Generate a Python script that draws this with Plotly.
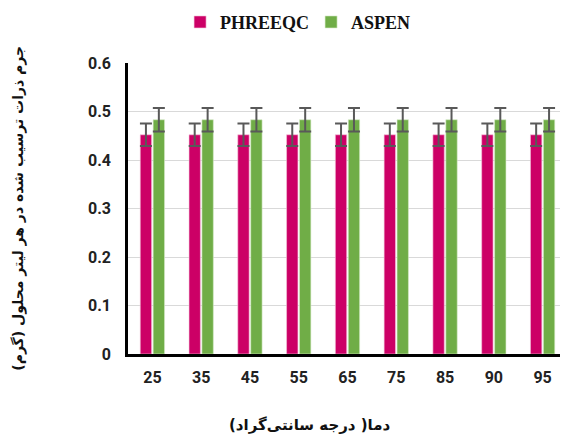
import plotly.graph_objects as go

temperatures = ["25", "35", "45", "55", "65", "75", "85", "90", "95"]
phreeqc = [0.452, 0.452, 0.452, 0.452, 0.452, 0.452, 0.452, 0.452, 0.452]
phreeqc_err = [0.023, 0.023, 0.023, 0.023, 0.023, 0.023, 0.023, 0.023, 0.023]
aspen = [0.483, 0.483, 0.483, 0.483, 0.483, 0.483, 0.483, 0.483, 0.483]
aspen_err = [0.024, 0.024, 0.024, 0.024, 0.024, 0.024, 0.024, 0.024, 0.024]
y_ticks = [0, 0.1, 0.2, 0.3, 0.4, 0.5, 0.6]
y_tick_labels = ["0", "0.1", "0.2", "0.3", "0.4", "0.5", "0.6"]

tick_font = dict(family="Roboto", size=16, color="#222222", weight="bold")

fig = go.Figure()
fig.add_trace(go.Bar(
    x=temperatures, y=phreeqc, name="PHREEQC",
    marker=dict(color="#CC0066", line=dict(color="#f3c6dc", width=0.6)),
    error_y=dict(type="data", array=phreeqc_err, color="#595959", thickness=2, width=6),
))
fig.add_trace(go.Bar(
    x=temperatures, y=aspen, name="ASPEN",
    marker=dict(color="#70AD47", line=dict(color="#d6ebc9", width=0.6)),
    error_y=dict(type="data", array=aspen_err, color="#595959", thickness=2, width=6),
))

# the page body has an 8px default margin, so the figure is drawn 8px smaller
fig.update_layout(
    width=560, height=426,
    margin=dict(l=120, r=1, t=55, b=80, autoexpand=False),
    paper_bgcolor="white", plot_bgcolor="white",
    barmode="group", bargap=0.47, bargroupgap=0.12,
    showlegend=True,
    legend=dict(orientation="h", x=0.417, xanchor="center", y=1.14, yanchor="middle",
                font=dict(family="Liberation Serif", size=18, color="#111111", weight="bold"),
                itemwidth=30, traceorder="normal", entrywidth=86),
    xaxis=dict(showgrid=False, showline=True, linecolor="black", linewidth=2.5,
               tickfont=tick_font, ticks="", ticklabelstandoff=7, fixedrange=True),
    yaxis=dict(range=[0, 0.6], tickvals=y_ticks, ticktext=y_tick_labels,
               showgrid=True, gridcolor="#d9d9d9", gridwidth=1,
               showline=True, linecolor="black", linewidth=2.5, zeroline=False,
               tickfont=tick_font, ticks="", ticklabelstandoff=11),
)

fig.add_annotation(
    text="جرم ذرات ترسیب شده در هر لیتر محلول (گرم)",
    xref="paper", yref="paper", x=-0.25, y=0.5, xanchor="center", yanchor="middle",
    textangle=-90, showarrow=False,
    font=dict(family="DejaVu Sans", size=14, color="#111111", weight="bold"),
)
fig.add_annotation(
    text="دما( درجه سانتی\u200cگراد)",
    xref="paper", yref="paper", x=0.414, y=-0.245, xanchor="center", yanchor="middle",
    showarrow=False,
    font=dict(family="DejaVu Sans", size=15, color="#111111", weight="bold"),
)

fig.write_html("out.html")
